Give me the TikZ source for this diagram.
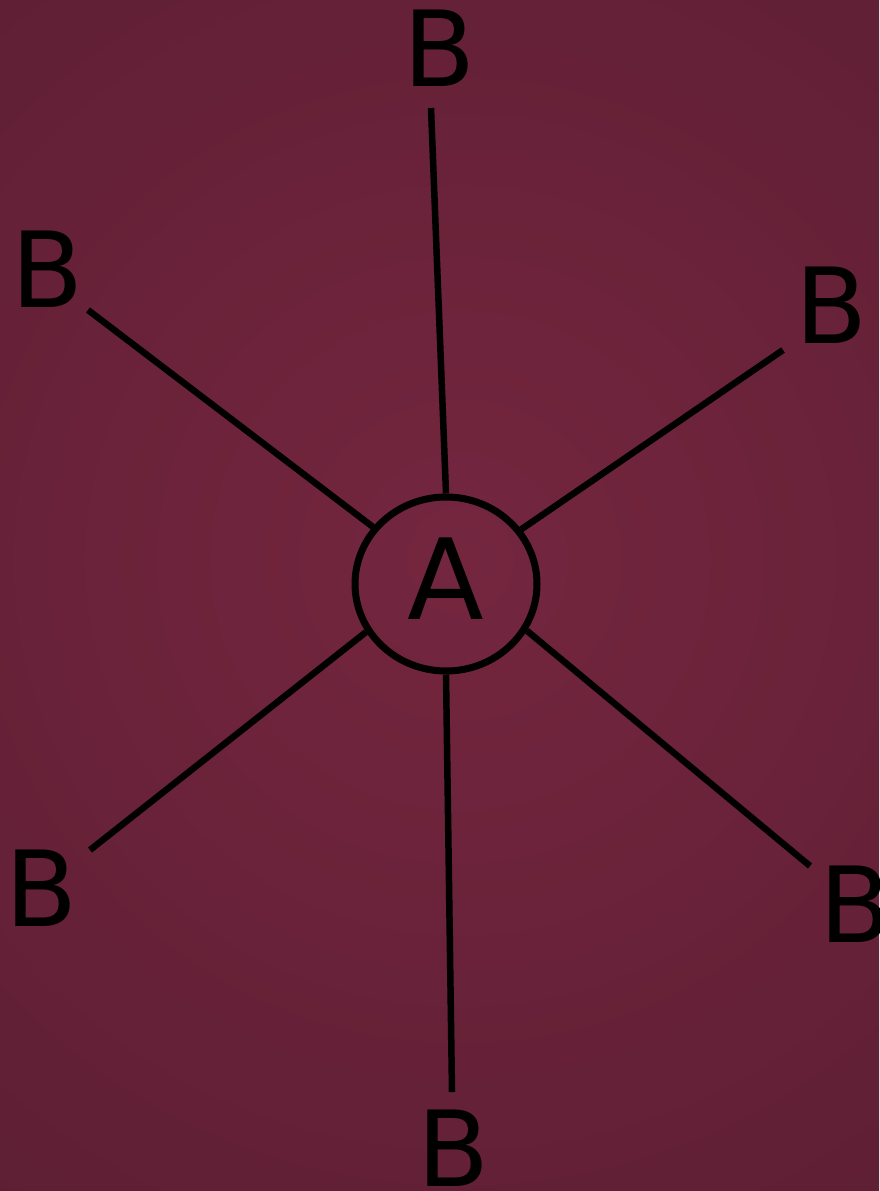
\documentclass[tikz,border=0pt]{standalone}
\usepackage{fontspec}
\setmainfont{DejaVu Sans}
\usetikzlibrary{shapes.geometric}
\definecolor{bgin}{HTML}{74263F}
\definecolor{bgout}{HTML}{4A182A}
\begin{document}
\begin{tikzpicture}[x=1pt,y=-1pt,
  lbl/.style={font=\fontsize{105}{105}\selectfont, inner sep=0pt, text=black},
  spoke/.style={line width=6.5pt, draw=black}]
\useasboundingbox (0,0) rectangle (879,1191);
\begin{scope}
\clip (0,0) rectangle (879,1191);
\shade[inner color=bgin, outer color=bgout] (460,560) circle[radius=1500];
\end{scope}
\node[ellipse, draw=black, line width=7pt, minimum width=182, minimum height=174,
  lbl, font=\fontsize{112}{112}\selectfont, text depth=10pt] (A) at (446,584) {A};
\coordinate (e1) at (431,108);
\coordinate (e2) at (88,310);
\coordinate (e3) at (783,350);
\coordinate (e4) at (90,850);
\coordinate (e5) at (810,866);
\coordinate (e6) at (452,1092);
\node[lbl] (b1) at (440,48) {B};
\node[lbl] (b2) at (48,269) {B};
\node[lbl] (b3) at (832,305) {B};
\node[lbl] (b4) at (42,888) {B};
\node[lbl] (b5) at (856,904) {B};
\node[lbl] (b6) at (454,1148) {B};
\draw[spoke] (A.north) -- (e1);
\draw[spoke] (A.142) -- (e2);
\draw[spoke] (A.36) -- (e3);
\draw[spoke] (A.211) -- (e4);
\draw[spoke] (A.330) -- (e5);
\draw[spoke] (A.south) -- (e6);
\end{tikzpicture}
\end{document}
